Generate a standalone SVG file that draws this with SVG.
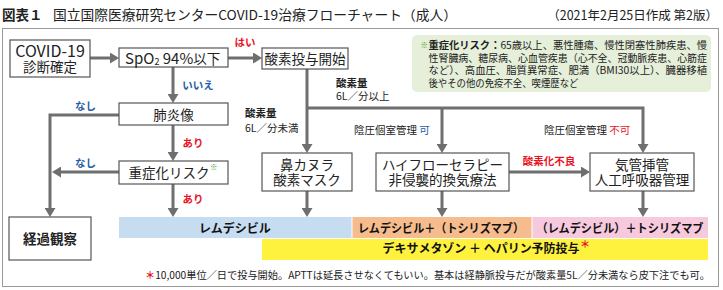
<svg xmlns="http://www.w3.org/2000/svg" width="723" height="290" viewBox="0 0 723 290">
<style>
text{font-family:"Noto Sans CJK JP","Noto Sans",sans-serif;fill:#222}
.node rect{fill:#fff;stroke:#555;stroke-width:1.2}
.nt{font-size:13.5px;text-anchor:middle}
.lbl{font-size:10.5px}
.b{font-weight:bold}
.red{fill:#e8131f}
.blue{fill:#1f5da6}
.conn path{fill:none;stroke:#6f6f6f;stroke-width:3;stroke-linejoin:miter}
.bar{font-size:12px;font-weight:bold;text-anchor:middle;fill:#111}
.note{font-size:10.3px}
</style>
<defs>
<marker id="ah" viewBox="0 0 9 11" refX="1" refY="5.5" markerWidth="9" markerHeight="11" markerUnits="userSpaceOnUse" orient="auto">
<path d="M0,0 L9,5.5 L0,11 z" fill="#6f6f6f"/>
</marker>
</defs>
<rect width="723" height="290" fill="#fff"/>
<!-- title -->
<text x="2" y="20" font-size="13.5" font-weight="bold">図表１</text>
<text x="53" y="20" font-size="13.5" textLength="404" lengthAdjust="spacingAndGlyphs">国立国際医療研究センターCOVID-19治療フローチャート（成人）</text>
<text x="718" y="20" font-size="12.5" text-anchor="end">（2021年2月25日作成 第2版）</text>
<!-- frame -->
<rect x="2.5" y="28.5" width="716" height="258" fill="none" stroke="#9a9a9a" stroke-width="1"/>
<!-- note -->
<g id="note">
<rect x="412" y="35" width="299" height="57" rx="5" fill="#e5efd9"/>
<text x="420.5" y="48" font-size="7.5" style="fill:#4a9a2a">※</text>
<text class="note" x="428.5" y="49" textLength="278.5" lengthAdjust="spacingAndGlyphs"><tspan font-weight="bold">重症化リスク：</tspan>65歳以上、悪性腫瘍、慢性閉塞性肺疾患、慢</text>
<text class="note" x="428.5" y="61.5" textLength="278.5" lengthAdjust="spacingAndGlyphs">性腎臓病、糖尿病、心血管疾患（心不全、冠動脈疾患、心筋症</text>
<text class="note" x="428.5" y="74" textLength="278.5" lengthAdjust="spacingAndGlyphs">など）、高血圧、脂質異常症、肥満（BMI30以上）、臓器移植</text>
<text class="note" x="428.5" y="86.5" textLength="150" lengthAdjust="spacingAndGlyphs">後やその他の免疫不全、喫煙歴など</text>
</g>
<!-- bars -->
<g id="bars">
<rect x="119" y="217" width="232.5" height="21" fill="#c6dcf1"/>
<rect x="352.5" y="217" width="179" height="21" fill="#f6bc8e"/>
<rect x="532.5" y="217" width="175.5" height="21" fill="#f7c9de"/>
<rect x="262" y="239" width="446" height="21" fill="#fff23f"/>
<text class="bar" x="235" y="232.5">レムデシビル</text>
<text class="bar" x="441" y="232.5" textLength="166" lengthAdjust="spacingAndGlyphs">レムデシビル＋（トシリズマブ）</text>
<text class="bar" x="620" y="232.5" textLength="167" lengthAdjust="spacingAndGlyphs">（レムデシビル）＋トシリズマブ</text>
<text class="bar" x="481" y="253" textLength="197" lengthAdjust="spacingAndGlyphs">デキサメタゾン ＋ ヘパリン予防投与</text>
<text x="580" y="248" font-size="10" font-weight="bold" class="red">＊</text>
</g>
<!-- connectors -->
<g id="connectors" class="conn">
<path d="M90,58 H111" marker-end="url(#ah)"/>
<path d="M228,58 H254" marker-end="url(#ah)"/>
<path d="M173,67 V95" marker-end="url(#ah)"/>
<path d="M173,125 V153" marker-end="url(#ah)"/>
<path d="M119,115 H50 V209" marker-end="url(#ah)"/>
<path d="M119,172 H60" marker-end="url(#ah)"/>
<path d="M173,184 V209" marker-end="url(#ah)"/>
<path d="M307,69 V145" marker-end="url(#ah)"/>
<path d="M307,108 H643 V145" marker-end="url(#ah)"/>
<path d="M442,108 V145" marker-end="url(#ah)"/>
<path d="M307,191 V209" marker-end="url(#ah)"/>
<path d="M442,191 V209" marker-end="url(#ah)"/>
<path d="M643,191 V209" marker-end="url(#ah)"/>
<path d="M509,172 H582" marker-end="url(#ah)"/>
</g>
<!-- connector labels -->
<g id="labels">
<text class="lbl b red" x="245" y="46" text-anchor="middle">はい</text>
<text class="lbl b blue" x="198" y="89" text-anchor="middle">いいえ</text>
<text class="lbl b blue" x="85.5" y="110" text-anchor="middle">なし</text>
<text class="lbl b red" x="193" y="147" text-anchor="middle">あり</text>
<text class="lbl b blue" x="85.5" y="167" text-anchor="middle">なし</text>
<text class="lbl b red" x="193" y="203" text-anchor="middle">あり</text>
<text class="lbl" x="245" y="117"><tspan font-weight="bold">酸素量</tspan><tspan x="245" dy="15">6L／分未満</tspan></text>
<text class="lbl" x="336" y="87"><tspan font-weight="bold">酸素量</tspan><tspan x="336" dy="12.5">6L／分以上</tspan></text>
<text class="lbl" x="354" y="134">陰圧個室管理 <tspan style="fill:#1f5da6">可</tspan></text>
<text class="lbl" x="544" y="134">陰圧個室管理 <tspan style="fill:#e8131f">不可</tspan></text>
<text class="lbl b red" x="549" y="165" text-anchor="middle">酸素化不良</text>
</g>
<!-- nodes -->
<g id="n-covid" class="node">
<rect x="10" y="40" width="80" height="37"/>
<text class="nt" x="50" y="57"><tspan font-size="16">COVID-19</tspan><tspan x="50" dy="15">診断確定</tspan></text>
</g>
<g id="n-spo2" class="node">
<rect x="119" y="48" width="109" height="19"/>
<text x="125" y="63.5" font-size="15">SpO<tspan font-size="9" dy="1">2</tspan><tspan dy="-1"> 94%</tspan><tspan font-size="13.5">以下</tspan></text>
</g>
<g id="n-o2start" class="node">
<rect x="262" y="48" width="86" height="21"/>
<text class="nt" x="305" y="64">酸素投与開始</text>
</g>
<g id="n-pneumonia" class="node">
<rect x="119" y="103" width="109" height="22"/>
<text class="nt" x="173.5" y="119.5">肺炎像</text>
</g>
<g id="n-risk" class="node">
<rect x="119" y="161" width="109" height="23"/>
<text class="nt" x="169" y="177.5">重症化リスク</text>
<text x="210" y="170" font-size="7.5" style="fill:#4a9a2a">※</text>
</g>
<g id="n-observe" class="node">
<rect x="9" y="217" width="82" height="43"/>
<text class="nt b" x="50" y="244">経過観察</text>
</g>
<g id="n-cannula" class="node">
<rect x="262" y="153" width="90" height="38"/>
<text class="nt" x="307" y="169.5">鼻カヌラ<tspan x="307" dy="15.5">酸素マスク</tspan></text>
</g>
<g id="n-hfnc" class="node">
<rect x="376" y="153" width="133" height="38"/>
<text class="nt" x="442.5" y="169.5">ハイフローセラピー<tspan x="442.5" dy="15.5">非侵襲的換気療法</tspan></text>
</g>
<g id="n-intub" class="node">
<rect x="590" y="153" width="104" height="38"/>
<text class="nt" x="642" y="169.5">気管挿管<tspan x="642" dy="15.5">人工呼吸器管理</tspan></text>
</g>
<!-- footnote -->
<text x="145" y="279" font-size="10.2" textLength="565" lengthAdjust="spacingAndGlyphs"><tspan style="fill:#e8131f" font-weight="bold">＊</tspan>10,000単位／日で投与開始。APTTは延長させなくてもいい。基本は経静脈投与だが酸素量5L／分未満なら皮下注でも可。</text>
</svg>
